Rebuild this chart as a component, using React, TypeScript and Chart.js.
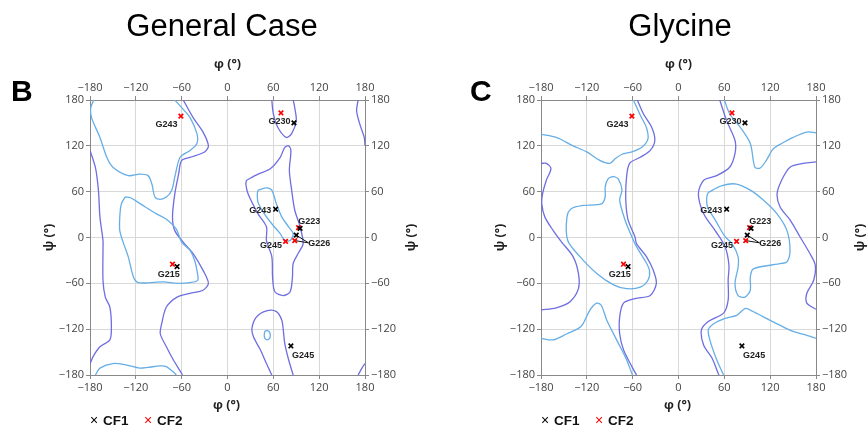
import React, { useEffect, useRef } from 'react';
import { Chart, registerables } from 'chart.js';
Chart.register(...registerables);

type Pt = [number, number];

// ---------- axes ----------
const angleTicks = [-180, -120, -60, 0, 60, 120, 180];

// ---------- conformer points (phi, psi) ----------
const residues = ['G215', 'G223', 'G226', 'G230', 'G243', 'G245'];
const cf1Phi = [-66, 95, 90, 87, 63, 83];
const cf1Psi = [-38, 12, 3, 150, 37, -142];
const cf2Phi = [-72, 93, 88, 70, -61, 76];
const cf2Psi = [-35, 13, -4, 163, 159, -5];

// ---------- residue labels ----------
const labelText = ['G215', 'G223', 'G226', 'G230', 'G243', 'G243', 'G245', 'G245'];
const labelPhi = [-77, 107, 120, 68, -80, 43, 99, 57];
const labelPsi = [-48, 21, -8, 152, 148, 35, -154, -11];
// leader lines for G226 (label anchor)
const leaderResidue = 'G226';
const leaderPhi = 106;
const leaderPsi = -7;

// ---------- General Case contours ----------
const genFavBetaTop: Pt[] = [[-175, 180], [-179, 170], [-178, 157], [-167, 131], [-158, 105], [-150, 92], [-130, 81], [-115, 83], [-104, 81], [-99, 70], [-95, 53], [-88, 50], [-80, 53], [-73, 62], [-69, 79], [-62, 105], [-49, 114], [-40, 123], [-40, 136], [-49, 157], [-60, 170], [-69, 180]];
const genFavBetaBottom: Pt[] = [[-173, -180], [-167, -171], [-150, -165], [-132, -167], [-115, -171], [-104, -170], [-88, -168], [-80, -169], [-71, -176], [-67, -180]];
const genFavAlpha: Pt[] = [[-134, 53], [-127, 52], [-114, 44], [-93, 31], [-80, 24], [-67, 11], [-60, -6], [-49, -17], [-43, -30], [-40, -43], [-39, -56], [-49, -59], [-66, -60], [-84, -58], [-99, -59], [-117, -59], [-123, -52], [-130, -25], [-136, -8], [-141, 9], [-141, 27], [-139, 44], [-134, 53]];
const genFavLeft: Pt[] = [[40, 62], [51, 65], [58, 62], [64, 44], [71, 27], [80, 14], [86, 5], [82, -4], [75, -4], [69, 5], [58, 18], [47, 33], [40, 46], [39, 57], [40, 62]];
const genFavSmall: Pt[] = [[48, -128], [49, -123], [52, -122], [55, -124], [56, -128], [55, -132], [52, -134], [49, -132], [48, -128]];
const genAllowLeftEdge: Pt[] = [[-180, 114], [-173, 92], [-169, 62], [-167, 27], [-163, -4], [-163, -17], [-163, -56], [-160, -78], [-154, -91], [-152, -117], [-154, -134], [-167, -143], [-176, -156], [-180, -166]];
const genAllowRightTop: Pt[] = [[171, 180], [169, 166], [173, 149], [179, 131], [180, 120]];
const genAllowRightBottom: Pt[] = [[180, -165], [176, -171], [171, -180]];
const genAllowCentre: Pt[] = [[-58, 180], [-45, 157], [-32, 138], [-25, 120], [-30, 112], [-49, 105], [-60, 101], [-64, 83], [-69, 57], [-72, 27], [-69, 9], [-58, -6], [-45, -21], [-32, -43], [-25, -60], [-32, -69], [-49, -73], [-66, -78], [-80, -91], [-86, -112], [-88, -126], [-80, -143], [-71, -160], [-60, -178], [-59, -180]];
const genAllowTopLoop: Pt[] = [[58, 180], [60, 162], [66, 144], [77, 131], [84, 136], [90, 153], [88, 170], [86, 180]];
const genAllowBottomLoop: Pt[] = [[58, -180], [51, -165], [43, -147], [34, -130], [32, -119], [38, -104], [51, -96], [64, -97], [71, -108], [73, -121], [75, -139], [80, -160], [86, -180]];
const genAllowLeftAlpha: Pt[] = [[25, 75], [40, 83], [56, 90], [69, 105], [75, 118], [80, 120], [83, 114], [81, 88], [84, 62], [88, 36], [95, 14], [99, -8], [93, -20], [86, -34], [85, -52], [82, -71], [73, -76], [62, -71], [59, -52], [58, -25], [51, -4], [51, 14], [40, 31], [27, 57], [24, 70], [25, 75]];

// ---------- Glycine contours ----------
const glyFavTopLeft: Pt[] = [[-180, 135], [-160, 131], [-138, 120], [-120, 112], [-103, 101], [-90, 97], [-83, 103], [-74, 109], [-61, 112], [-48, 118], [-40, 129], [-42, 144], [-50, 160], [-59, 180]];
const glyFavBottomLeft: Pt[] = [[-180, -132], [-164, -134], [-146, -126], [-131, -119], [-125, -113], [-116, -95], [-107, -86], [-101, -89], [-94, -108], [-81, -134], [-68, -160], [-61, -178], [-60, -180]];
const glyFavAlpha: Pt[] = [[-85, 80], [-79, 77], [-74, 62], [-77, 49], [-70, 23], [-61, 1], [-55, -12], [-44, -30], [-38, -43], [-40, -56], [-50, -65], [-68, -67], [-85, -62], [-107, -47], [-129, -25], [-145, -4], [-146, 27], [-140, 38], [-125, 42], [-101, 44], [-96, 53], [-96, 66], [-92, 77], [-85, 80]];
const glyFavLeftAlpha: Pt[] = [[39, 59], [57, 68], [76, 70], [94, 62], [111, 49], [129, 31], [142, 9], [146, -17], [142, -32], [135, -34], [98, -41], [94, -52], [94, -69], [87, -78], [78, -76], [74, -60], [78, -39], [78, -25], [70, -8], [61, 1], [48, 23], [38, 40], [37, 53], [39, 59]];
const glyFavTopRight: Pt[] = [[60, 180], [67, 162], [81, 144], [94, 123], [100, 92], [107, 91], [115, 101], [124, 116], [135, 123], [150, 131], [168, 138], [180, 137]];
const glyFavBottomRight: Pt[] = [[59, -180], [50, -160], [41, -134], [39, -121], [46, -113], [61, -106], [76, -102], [87, -93], [94, -95], [111, -104], [129, -113], [150, -123], [168, -128], [180, -132]];
const glyAllowLeft: Pt[] = [[-180, 97], [-173, 97], [-167, 90], [-173, 75], [-178, 57], [-179, 44], [-175, 27], [-164, 9], [-153, -6], [-138, -25], [-131, -47], [-131, -67], [-142, -84], [-160, -92], [-180, -95]];
const glyAllowCentreLeft: Pt[] = [[-54, 180], [-46, 162], [-35, 144], [-31, 127], [-37, 114], [-50, 105], [-64, 97], [-68, 79], [-69, 49], [-66, 23], [-57, 1], [-55, -8], [-42, -25], [-33, -43], [-29, -60], [-37, -76], [-57, -80], [-72, -86], [-77, -104], [-77, -126], [-72, -147], [-61, -169], [-55, -180]];
const glyAllowCentreRight: Pt[] = [[54, 180], [63, 153], [74, 127], [74, 110], [67, 92], [50, 81], [33, 75], [26, 57], [33, 31], [48, 9], [61, -12], [66, -36], [65, -56], [65, -82], [59, -99], [39, -110], [30, -121], [33, -141], [44, -158], [52, -178], [53, -180]];
const glyAllowRight: Pt[] = [[180, 99], [163, 97], [146, 92], [135, 75], [129, 57], [133, 40], [146, 23], [159, 1], [172, -21], [179, -36], [177, -56], [168, -73], [168, -86], [180, -94]];

const FAVOURED = '#66aee6';
const ALLOWED = '#6e6ee2';

const genContours: { pts: Pt[]; color: string }[] = [
  { pts: genFavBetaTop, color: FAVOURED },
  { pts: genFavBetaBottom, color: FAVOURED },
  { pts: genFavAlpha, color: FAVOURED },
  { pts: genFavLeft, color: FAVOURED },
  { pts: genFavSmall, color: FAVOURED },
  { pts: genAllowLeftEdge, color: ALLOWED },
  { pts: genAllowRightTop, color: ALLOWED },
  { pts: genAllowRightBottom, color: ALLOWED },
  { pts: genAllowCentre, color: ALLOWED },
  { pts: genAllowTopLoop, color: ALLOWED },
  { pts: genAllowBottomLoop, color: ALLOWED },
  { pts: genAllowLeftAlpha, color: ALLOWED },
];
const glyContours: { pts: Pt[]; color: string }[] = [
  { pts: glyFavTopLeft, color: FAVOURED },
  { pts: glyFavBottomLeft, color: FAVOURED },
  { pts: glyFavAlpha, color: FAVOURED },
  { pts: glyFavLeftAlpha, color: FAVOURED },
  { pts: glyFavTopRight, color: FAVOURED },
  { pts: glyFavBottomRight, color: FAVOURED },
  { pts: glyAllowLeft, color: ALLOWED },
  { pts: glyAllowCentreLeft, color: ALLOWED },
  { pts: glyAllowCentreRight, color: ALLOWED },
  { pts: glyAllowRight, color: ALLOWED },
];

const fmt = (v: number | string) => String(v).replace('-', '\u2212');

interface PanelCfg {
  pageLeft: number;
  title: string;
  titleX: number;
  letter: string;
  letterX: number;
  leftW: number;
  rightW: number;
  psiLeftX: number;
  psiRightX: number;
  legendX: number;
  contours: { pts: Pt[]; color: string }[];
}

const CW = 434;
const CH = 429;
const TOP_H = 100;
const BOTTOM_H = 54;

function axis(position: string, size: number, onArea: boolean) {
  return {
    type: 'linear',
    position,
    min: -180,
    max: 180,
    afterBuildTicks: (s: any) => {
      s.ticks = angleTicks.map((v) => ({ value: v }));
    },
    afterFit: (s: any) => {
      if (s.isHorizontal()) s.height = size;
      else s.width = size;
    },
    ticks: {
      callback: (v: any) => fmt(v),
      font: { family: '"Open Sans", sans-serif', size: 11 },
      color: '#444',
      padding: 2,
      maxRotation: 0,
      autoSkip: false,
    },
    grid: {
      display: true,
      drawOnChartArea: onArea,
      color: '#d8d8d8',
      tickColor: '#888',
      tickLength: 4,
      lineWidth: 1,
    },
    border: { display: true, color: '#888', width: 1 },
  };
}

function Panel({ cfg }: { cfg: PanelCfg }) {
  const ref = useRef<HTMLCanvasElement>(null);
  useEffect(() => {
    const datasets: any[] = [];
    datasets.push({
      label: 'CF1',
      data: cf1Phi.map((x, i) => ({ x, y: cf1Psi[i] })),
      showLine: false,
      pointStyle: 'crossRot',
      pointRadius: 3.2,
      pointBorderWidth: 1.7,
      borderColor: '#000',
      backgroundColor: '#000',
      order: 0,
    });
    datasets.push({
      label: 'CF2',
      data: cf2Phi.map((x, i) => ({ x, y: cf2Psi[i] })),
      showLine: false,
      pointStyle: 'crossRot',
      pointRadius: 3.2,
      pointBorderWidth: 1.7,
      borderColor: '#ff0000',
      backgroundColor: '#ff0000',
      order: 0,
    });
    const li = residues.indexOf(leaderResidue);
    datasets.push({
      label: 'leader',
      data: [
        { x: cf1Phi[li], y: cf1Psi[li] },
        { x: leaderPhi, y: leaderPsi },
        { x: cf2Phi[li], y: cf2Psi[li] },
      ],
      showLine: true,
      pointRadius: 0,
      borderColor: '#111',
      borderWidth: 1,
      order: 1,
    });
    cfg.contours.forEach((c, i) => {
      datasets.push({
        label: 'contour' + i,
        data: c.pts.map(([x, y]) => ({ x, y })),
        showLine: true,
        pointRadius: 0,
        borderColor: c.color,
        borderWidth: 1.3,
        tension: 0.3,
        fill: false,
        order: 2,
      });
    });

    const annot = {
      id: 'annot',
      afterDatasetsDraw(chart: any) {
        const { ctx, scales } = chart;
        const x = scales.x;
        const y = scales.y;
        ctx.save();
        ctx.font = 'bold 9px "Liberation Sans", Arial, sans-serif';
        ctx.fillStyle = '#222';
        ctx.textAlign = 'center';
        ctx.textBaseline = 'middle';
        labelText.forEach((t, i) => {
          ctx.fillText(t, x.getPixelForValue(labelPhi[i]), y.getPixelForValue(labelPsi[i]));
        });
        ctx.restore();
      },
      afterDraw(chart: any) {
        const { ctx, chartArea } = chart;
        const cx = (chartArea.left + chartArea.right) / 2;
        const cy = (chartArea.top + chartArea.bottom) / 2;
        ctx.save();
        // panel title
        ctx.fillStyle = '#000';
        ctx.font = '31px "Liberation Sans", Arial, sans-serif';
        ctx.textAlign = 'center';
        ctx.textBaseline = 'middle';
        ctx.fillText(cfg.title, cfg.titleX, 27);
        // panel letter
        ctx.font = 'bold 30px "Liberation Sans", Arial, sans-serif';
        ctx.textAlign = 'left';
        ctx.textBaseline = 'alphabetic';
        ctx.fillText(cfg.letter, cfg.letterX, 101);
        // axis titles
        ctx.fillStyle = '#222';
        ctx.font = 'bold 12.5px "Open Sans", sans-serif';
        ctx.textAlign = 'center';
        ctx.textBaseline = 'middle';
        ctx.fillText('φ (°)', cx, 64);
        ctx.fillText('φ (°)', cx - 1, 405);
        [cfg.psiLeftX, cfg.psiRightX].forEach((px) => {
          ctx.save();
          ctx.translate(px, cy);
          ctx.rotate(-Math.PI / 2);
          ctx.fillText('ψ (°)', 0, 0);
          ctx.restore();
        });
        // legend
        const lx = cfg.legendX;
        ctx.textAlign = 'left';
        ctx.textBaseline = 'middle';
        ctx.font = '14px "Liberation Sans", Arial, sans-serif';
        ctx.fillStyle = '#000';
        ctx.fillText('×', lx, 421);
        ctx.fillStyle = '#ff0000';
        ctx.fillText('×', lx + 54, 421);
        ctx.font = 'bold 13.5px "Liberation Sans", Arial, sans-serif';
        ctx.fillStyle = '#111';
        ctx.fillText('CF1', lx + 13, 421);
        ctx.fillText('CF2', lx + 67, 421);
        ctx.restore();
      },
    };

    const chart = new Chart(ref.current as HTMLCanvasElement, {
      type: 'scatter',
      data: { datasets },
      options: {
        responsive: false,
        animation: false,
        devicePixelRatio: 1,
        layout: { padding: 0 },
        plugins: { legend: { display: false }, tooltip: { enabled: false }, title: { display: false } },
        scales: {
          x: axis('bottom', BOTTOM_H, true),
          x2: axis('top', TOP_H, false),
          y: axis('left', cfg.leftW, true),
          y2: axis('right', cfg.rightW, false),
        } as any,
      },
      plugins: [annot],
    } as any);
    return () => chart.destroy();
  }, [cfg]);
  return (
    <canvas
      ref={ref}
      width={CW}
      height={CH}
      style={{ position: 'absolute', left: cfg.pageLeft, top: 0, width: CW, height: CH }}
    />
  );
}

const panels: PanelCfg[] = [
  {
    pageLeft: 0,
    title: 'General Case',
    titleX: 222,
    letter: 'B',
    letterX: 11,
    leftW: 90,
    rightW: CW - 90 - 275,
    psiLeftX: 49,
    psiRightX: 411,
    legendX: 90,
    contours: genContours,
  },
  {
    pageLeft: 434,
    title: 'Glycine',
    titleX: 680 - 434,
    letter: 'C',
    letterX: 470 - 434,
    leftW: 107,
    rightW: CW - 107 - 275,
    psiLeftX: 500 - 434,
    psiRightX: 860 - 434,
    legendX: 541 - 434,
    contours: glyContours,
  },
];

export default function App() {
  return (
    <div style={{ position: 'absolute', left: 0, top: 0, width: 868, height: 429, background: '#fff', overflow: 'hidden' }}>
      {panels.map((p) => (
        <Panel key={p.title} cfg={p} />
      ))}
    </div>
  );
}
